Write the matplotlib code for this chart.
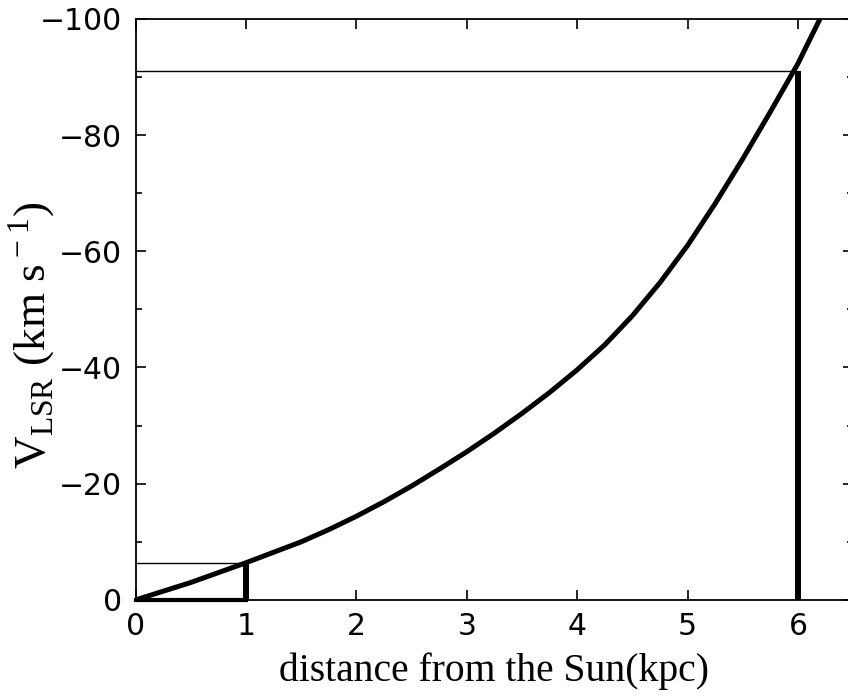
import numpy as np
import matplotlib
matplotlib.use("Agg")
from matplotlib import pyplot as plt
from matplotlib.ticker import MultipleLocator

plt.rcParams['mathtext.fontset'] = 'custom'
plt.rcParams['mathtext.rm'] = 'Liberation Serif'

# curve
dist = [0, 0.25, 0.5, 0.75, 1, 1.25, 1.5, 1.75, 2, 2.25, 2.5, 2.75, 3, 3.25,
        3.5, 3.75, 4, 4.25, 4.5, 4.75, 5, 5.25, 5.5, 5.75, 6, 6.2]
vlsr = [0, -1.5, -3.0, -4.7, -6.4, -8.2, -10.0, -12.1, -14.4, -16.9, -19.6, -22.5,
        -25.5, -28.7, -32.1, -35.7, -39.6, -43.9, -48.9, -54.6, -61.0, -68.2,
        -75.9, -84.0, -92.3, -100]

# marked distances and their velocities
mark_d = [1, 6]
mark_v = [-6.4, -91]

fig = plt.figure(figsize=(8.48, 7), dpi=100)
ax = fig.add_axes([0.160, 0.143, 0.846, 0.830])

ax.plot(dist, vlsr, c='k', lw=3.6, solid_capstyle='butt', solid_joinstyle='round', zorder=3)
for d, v in zip(mark_d, mark_v):
    ax.plot([d, d], [0, v], c='k', lw=4.3, solid_capstyle='butt', zorder=3)
    ax.plot([0, d], [v, v], c='k', lw=1.0, zorder=2)
ax.plot([0, mark_d[0]], [0, 0], c='k', lw=3.0, zorder=3, clip_on=False)

ax.set_xlim(0, 6.5)
ax.set_ylim(0, -100)
ax.xaxis.set_major_locator(MultipleLocator(1))
ax.yaxis.set_major_locator(MultipleLocator(20))
ax.yaxis.set_minor_locator(MultipleLocator(10))
ax.tick_params(which='both', direction='in', top=True, right=True,
               width=1.2, labelsize=21.5)
ax.tick_params(axis='x', pad=9)
ax.tick_params(axis='y', pad=10)
ax.tick_params(which='major', length=7)
ax.tick_params(which='minor', length=4)
for sp in ax.spines.values():
    sp.set_linewidth(1.3)

ax.set_xlabel("distance from the Sun(kpc)", fontfamily='Liberation Serif',
              fontsize=28.5, labelpad=8)
ax.set_ylabel(r"V$_{\rm LSR}$ (km s$^{\rm -1}$)", fontfamily='Liberation Serif',
              fontsize=32.5)
ax.yaxis.set_label_coords(-0.108, 0.455)

plt.savefig("out.png", dpi=100)
